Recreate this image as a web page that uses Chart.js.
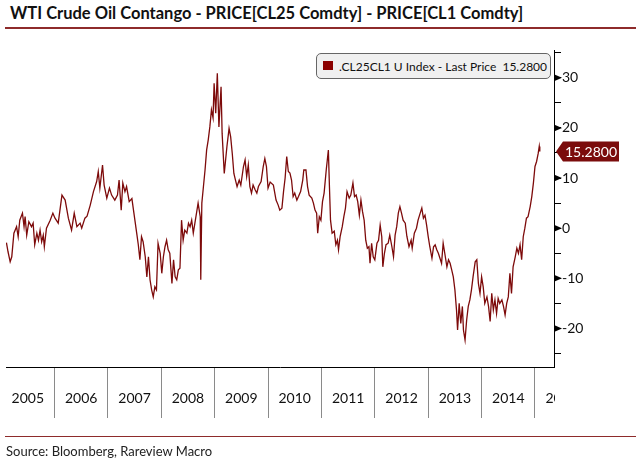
<!DOCTYPE html>
<html>
<head>
<meta charset="utf-8">
<script src="https://cdn.jsdelivr.net/npm/chart.js@4.4.1/dist/chart.umd.min.js"></script>
<style>
  html,body{margin:0;padding:0;background:#fff;}
  body{width:636px;height:468px;position:relative;overflow:hidden;font-family:Lato,"DejaVu Sans",sans-serif;}
  #chart{position:absolute;left:0;top:0;}
  .title{position:absolute;left:10px;top:3px;font-weight:bold;font-size:16.5px;color:#111;white-space:nowrap;}
  .rule{position:absolute;left:5px;width:631px;height:2px;background:#8e2b2b;}
  .source{position:absolute;left:6px;top:443px;font-size:13px;color:#222;}
  .legend{position:absolute;left:316px;top:53px;width:235px;height:26px;box-sizing:border-box;
    border:1px solid #666;border-radius:5px;background:#f0f0f0;font-size:12px;color:#111;white-space:pre;}
  .legend .box{position:absolute;left:6px;top:7px;width:10px;height:9px;background:#8b0000;}
  .legend .txt{position:absolute;left:22px;top:5px;}
</style>
</head>
<body>
<div class="title">WTI Crude Oil Contango - PRICE[CL25 Comdty] - PRICE[CL1 Comdty]</div>
<div class="rule" style="top:27px"></div>
<canvas id="chart" width="636" height="468"></canvas>
<div class="legend"><span class="box"></span><span class="txt" id="legendTxt"></span></div>
<div class="rule" style="top:436px;height:1px"></div>
<div class="source">Source: Bloomberg, Rareview Macro</div>

<script>
// ================= DATA =================
const seriesName = ".CL25CL1 U Index - Last Price";
const years = ["2005","2006","2007","2008","2009","2010","2011","2012","2013","2014","2015"];
const yTicks = [-25,-20,-15,-10,-5,0,5,10,15,20,25,30,35];

// dates in decimal years
const dates = [
  2005.10,2005.13,2005.17,2005.20,2005.24,2005.29,2005.32,2005.35,2005.40,2005.43,2005.45,2005.48,
  2005.52,2005.57,2005.60,2005.63,2005.67,2005.70,2005.73,2005.76,2005.79,2005.81,2005.85,2005.92,
  2005.97,2006.01,2006.07,2006.14,2006.20,2006.26,2006.32,2006.37,2006.42,2006.48,2006.51,2006.57,
  2006.61,2006.67,2006.73,2006.79,2006.82,2006.85,2006.90,2006.93,2006.98,2007.03,2007.07,2007.13,
  2007.18,2007.21,2007.25,2007.28,2007.32,2007.35,2007.40,2007.45,2007.48,2007.51,2007.54,2007.57,
  2007.60,2007.63,2007.66,2007.70,2007.73,2007.76,2007.79,2007.82,2007.85,2007.88,2007.91,2007.94,
  2007.98,2008.01,2008.04,2008.07,2008.10,2008.13,2008.16,2008.20,2008.23,2008.26,2008.29,2008.32,
  2008.35,2008.38,2008.41,2008.44,2008.48,2008.51,2008.54,2008.57,2008.60,2008.63,2008.66,2008.69,
  2008.73,2008.74,2008.76,2008.79,2008.82,2008.85,2008.88,2008.91,2008.94,2008.97,2008.99,2009.02,
  2009.05,2009.08,2009.12,2009.14,2009.18,2009.23,2009.27,2009.30,2009.33,2009.36,2009.39,2009.42,
  2009.46,2009.49,2009.54,2009.57,2009.60,2009.63,2009.66,2009.69,2009.72,2009.76,2009.79,2009.82,
  2009.87,2009.91,2009.94,2009.97,2010.00,2010.04,2010.10,2010.15,2010.19,2010.22,2010.26,2010.29,
  2010.32,2010.35,2010.38,2010.41,2010.44,2010.47,2010.50,2010.54,2010.57,2010.61,2010.65,2010.67,
  2010.71,2010.74,2010.77,2010.82,2010.85,2010.88,2010.91,2010.93,2010.96,2010.99,2011.02,2011.05,
  2011.09,2011.11,2011.13,2011.15,2011.17,2011.20,2011.24,2011.27,2011.30,2011.32,2011.35,2011.39,
  2011.42,2011.45,2011.48,2011.52,2011.55,2011.59,2011.62,2011.65,2011.68,2011.71,2011.74,2011.77,
  2011.80,2011.83,2011.86,2011.89,2011.91,2011.94,2011.97,2012.00,2012.04,2012.07,2012.10,2012.13,
  2012.15,2012.18,2012.21,2012.25,2012.28,2012.32,2012.35,2012.38,2012.41,2012.44,2012.47,2012.50,
  2012.53,2012.57,2012.60,2012.64,2012.68,2012.70,2012.74,2012.78,2012.81,2012.85,2012.88,2012.91,
  2012.94,2012.97,2013.00,2013.03,2013.07,2013.10,2013.13,2013.16,2013.19,2013.22,2013.25,2013.28,
  2013.31,2013.35,2013.38,2013.41,2013.44,2013.47,2013.50,2013.53,2013.55,2013.58,2013.61,2013.64,
  2013.66,2013.69,2013.72,2013.75,2013.78,2013.81,2013.84,2013.88,2013.91,2013.94,2013.97,2014.00,
  2014.03,2014.06,2014.10,2014.13,2014.16,2014.19,2014.22,2014.25,2014.28,2014.31,2014.34,2014.38,
  2014.41,2014.44,2014.47,2014.50,2014.53,2014.56,2014.59,2014.63,2014.66,2014.69,2014.72,2014.75,
  2014.78,2014.81,2014.84,2014.87,2014.91,2014.94,2014.97,2015.00,2015.03,2015.06,2015.08,2015.09
];
const spread = [
  -2.9,-4.7,-6.7,-5.7,-1.0,0.3,-1.7,1.6,3.0,0.3,2.3,-1.4,
  1.3,0.3,1.0,-3.3,-1.0,-2.4,-0.4,-2.7,-1.4,-3.7,0.0,1.6,
  3.0,2.0,1.0,6.6,5.6,2.0,-0.4,3.0,0.3,1.0,0.0,2.0,
  2.4,4.6,7.3,9.3,11.3,8.0,12.6,8.6,6.0,8.0,6.6,5.6,
  6.6,9.6,3.6,9.0,7.3,8.3,5.3,5.9,3.6,1.3,-1.0,-3.3,
  -6.3,-1.7,-2.7,-5.7,-9.7,-5.7,-10.3,-12.3,-13.7,-11.7,-12.3,-3.0,
  -5.0,-9.0,-5.7,-3.7,-2.4,-4.3,-5.0,-11.0,-6.3,-9.7,-10.3,-8.3,
  -8.0,1.6,-2.4,-0.4,-1.0,1.0,0.3,1.6,-1.0,1.0,3.0,5.0,
  2.3,-10.3,5.0,8.3,11.6,15.6,17.6,20.2,23.6,22.0,28.9,22.9,
  30.9,20.2,28.2,18.9,10.9,16.3,19.9,18.2,14.9,10.9,9.6,8.3,
  9.6,8.6,12.3,13.6,10.3,12.6,8.3,7.0,8.6,7.6,7.0,8.3,
  9.3,12.3,13.9,12.3,8.0,9.2,8.6,5.6,4.6,3.6,4.0,7.3,
  10.0,14.3,11.3,11.0,9.6,6.3,7.0,5.6,6.3,7.3,9.6,11.6,
  11.6,8.3,6.6,6.0,5.0,3.6,3.0,-1.0,2.3,1.6,5.3,7.0,
  11.6,13.6,15.6,8.3,1.6,-1.0,-0.6,-3.3,-2.4,-4.3,-1.7,0.3,
  2.3,4.0,7.3,6.0,6.6,9.0,6.3,6.6,5.3,2.6,5.6,3.3,
  1.6,-2.4,-4.0,-3.7,-7.0,-3.0,-5.7,-6.3,-3.0,-2.4,0.6,-1.7,
  -7.7,-5.0,-3.3,-3.0,-1.4,-3.7,-5.7,-1.4,0.3,3.0,4.3,3.0,
  1.6,1.0,-1.6,-3.7,-2.4,-4.0,-1.0,0.0,1.6,3.0,4.0,2.0,
  2.6,0.6,-1.7,-3.7,-6.0,-3.7,-3.3,-4.3,-5.0,-6.0,-7.0,-3.0,
  -5.0,-7.7,-6.3,-7.0,-8.3,-9.7,-12.3,-16.3,-20.3,-15.0,-19.0,-15.6,
  -20.3,-22.3,-18.3,-15.6,-14.3,-12.3,-9.7,-6.7,-6.3,-11.0,-13.0,-9.7,
  -11.7,-15.0,-13.7,-15.6,-18.6,-13.0,-16.3,-14.3,-17.0,-14.0,-15.0,-14.3,
  -15.6,-17.3,-15.0,-13.7,-9.0,-13.0,-7.7,-5.7,-4.0,-5.0,-3.3,-6.3,
  -1.7,0.0,2.0,2.3,4.3,6.3,9.0,12.3,13.3,14.9,16.3,15.28
];
const lastPrice = 15.28;

const lineColor = "#7d0a0a";
document.getElementById("legendTxt").textContent = seriesName + "  " + lastPrice.toFixed(4);

// ================= PLUGINS =================
// clip the x labels that run past the right axis (the "20" stub)
const clipLabels = {
  id:"clipLabels",
  beforeDraw(chart){
    const c = chart.ctx, a = chart.chartArea, r = a.right + 1;
    c.save();
    c.beginPath();
    c.moveTo(0,0); c.lineTo(chart.width,0); c.lineTo(chart.width,a.bottom);
    c.lineTo(r,a.bottom); c.lineTo(r,chart.height); c.lineTo(0,chart.height);
    c.closePath();
    c.clip();
  },
  beforeDatasetsDraw(chart){ chart.ctx.restore(); }
};

// arrow heads on the labelled y ticks + last price tag
const axisMarks = {
  id:"axisMarks",
  afterDraw(chart){
    const c = chart.ctx, ys = chart.scales.y, x0 = chart.chartArea.right;
    c.save();
    c.fillStyle = "#000";
    ys.ticks.forEach(t=>{
      if(t.value % 10 !== 0 || t.value > 30) return;
      const y = ys.getPixelForValue(t.value);
      c.beginPath();
      c.moveTo(x0, y-3.5); c.lineTo(x0+8, y); c.lineTo(x0, y+3.5);
      c.closePath(); c.fill();
    });
    const ly = ys.getPixelForValue(lastPrice);
    c.fillStyle = "#7b0c0c";
    c.beginPath();
    c.moveTo(x0+2, ly); c.lineTo(x0+9, ly-10); c.lineTo(x0+65, ly-10);
    c.lineTo(x0+65, ly+10); c.lineTo(x0+9, ly+10); c.closePath(); c.fill();
    c.fillStyle = "#fff";
    c.font = "14px Lato, 'DejaVu Sans', sans-serif";
    c.textBaseline = "middle";
    c.fillText(lastPrice.toFixed(4), x0+11, ly+1);
    c.restore();
  }
};

// ================= CHART =================
const ctx = document.getElementById("chart").getContext("2d");
new Chart(ctx,{
  type:"line",
  data:{
    datasets:[{
      label:seriesName,
      data:dates.map((d,i)=>({x:d,y:spread[i]})),
      borderColor:lineColor,
      borderWidth:1.3,
      pointRadius:0,
      tension:0
    }]
  },
  options:{
    responsive:false,
    devicePixelRatio:1,
    animation:false,
    layout:{padding:{left:6,top:50,right:0,bottom:50}},
    plugins:{legend:{display:false},tooltip:{enabled:false}},
    scales:{
      x:{
        type:"linear",
        min:2005.092, max:2015.356,
        afterBuildTicks: s => { s.ticks = years.map(y=>({value:+y+0.5})); },
        afterFit: s => { s.height = 51; },
        ticks:{
          callback:(v,i)=>years[i],
          color:"#111",
          font:{family:"Lato",size:14},
          padding:-28,
          maxRotation:0,
          autoSkip:false
        },
        grid:{drawOnChartArea:false,offset:true,tickLength:51,color:"#8a8a8a",lineWidth:1},
        border:{display:true,color:"#000",width:1}
      },
      y:{
        position:"right",
        min:-27.68, max:35.53,
        afterBuildTicks: s => { s.ticks = yTicks.map(v=>({value:v})); },
        afterFit: s => { s.width = 82; },
        ticks:{
          callback:v => (v % 10 === 0 && v <= 30) ? String(v) : "",
          color:"#111",
          font:{family:"Lato",size:14},
          padding:1
        },
        grid:{drawOnChartArea:false,tickLength:7,color:"#000",lineWidth:1},
        border:{display:true,color:"#000",width:1}
      }
    }
  },
  plugins:[clipLabels,axisMarks]
});
</script>
</body>
</html>
